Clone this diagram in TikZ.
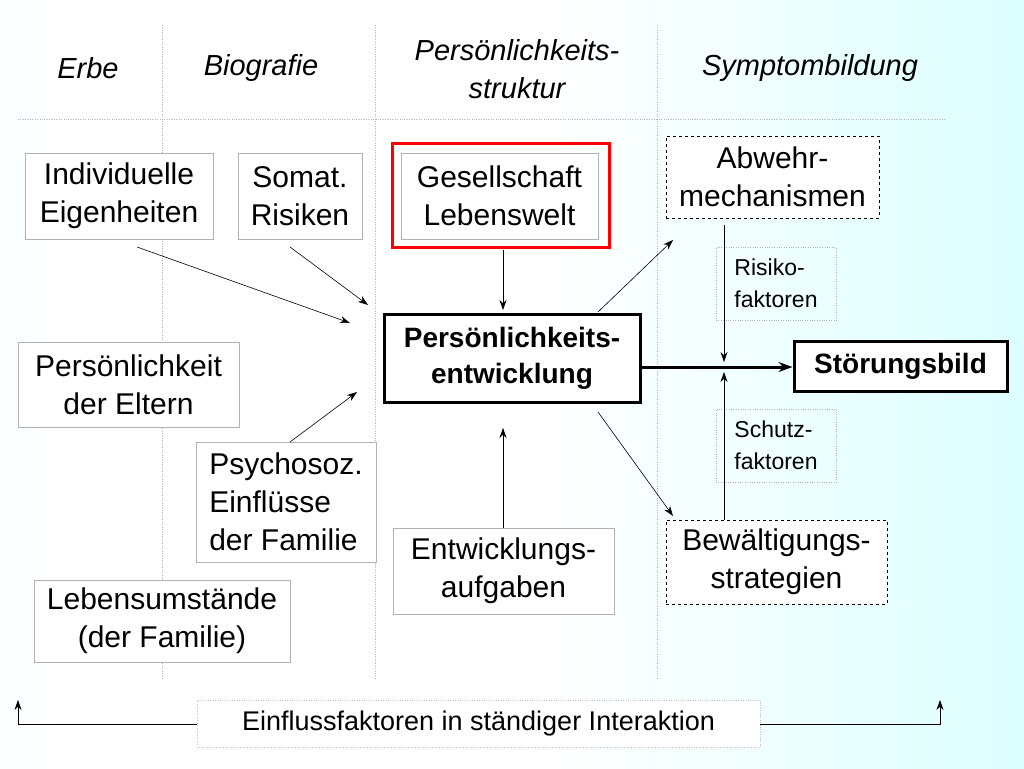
\documentclass[tikz,border=0pt]{standalone}
\usepackage{fontspec}
\setmainfont{Liberation Sans}
\usetikzlibrary{arrows.meta}
\pgfdeclarehorizontalshading{bg}{100bp}{color(0bp)=(cyan!18); color(28bp)=(white); color(52bp)=(white); color(100bp)=(cyan!28)}
\tikzset{
  box/.style={draw=gray!60,thin,fill=white,align=center,inner sep=0pt,font=\fontsize{30}{38}\selectfont},
  dbox/.style={box,draw=black,dashed},
  sbox/.style={box,draw=gray!60,dotted,align=left,fill=none,font=\fontsize{23}{32}\selectfont},
  bbox/.style={box,draw=black,line width=3pt,font=\bfseries\fontsize{28}{36}\selectfont},
  head/.style={align=center,font=\itshape\fontsize{29}{38}\selectfont},
  sep/.style={gray!60,dotted},
  arr/.style={-{Stealth[length=10pt,width=7pt]},semithick}
}
\begin{document}
\begin{tikzpicture}[x=1pt,y=-1pt]
  \shade[shading=bg] (0,0) rectangle (1024,768);
  \useasboundingbox (0,0) rectangle (1024,768);
  % column separators
  \draw[sep] (18,119) -- (945,119);
  \foreach \x in {162,375,657}
    \draw[sep] (\x,25) -- (\x,680);
  % headings
  \node[head] (erbe) at (88,68) {Erbe};
  \node[head] (bio) at (261,68) {Biografie};
  \node[head] (pers) at (517,69) {Persönlichkeits-\\struktur};
  \node[head] (sympt) at (810,68) {Symptombildung};
  % boxes
  \node[box,minimum width=188,minimum height=86] (indiv) at (119,196) {Individuelle\\Eigenheiten};
  \node[box,minimum width=124,minimum height=86] (somat) at (300,196) {Somat.\\Risiken};
  \node[draw=red,line width=3pt,minimum width=217,minimum height=104] (rahmen) at (500.5,195) {};
  \node[box,minimum width=197,minimum height=86] (gesell) at (499.5,196) {Gesellschaft\\Lebenswelt};
  \node[box,minimum width=221,minimum height=85] (eltern) at (128.5,384.5) {Persönlichkeit\\der Eltern};
  \node[box,align=left,minimum width=180,minimum height=120] (psycho) at (286,502) {Psychosoz.\\Einflüsse\\der Familie};
  \node[box,minimum width=256,minimum height=82] (lebens) at (162,621) {Lebensumstände\\(der Familie)};
  \node[box,minimum width=221,minimum height=86] (aufg) at (503.5,571) {Entwicklungs-\\aufgaben};
  \node[bbox,minimum width=256,minimum height=88] (entw) at (512,358) {Persönlichkeits-\\entwicklung};
  \node[bbox,minimum width=213,minimum height=50] (stoer) at (900.5,366) {Störungsbild};
  \node[dbox,minimum width=213,minimum height=82] (abwehr) at (772.5,177) {Abwehr-\\mechanismen};
  \node[dbox,minimum width=221,minimum height=84] (bewael) at (776.5,562) {Bewältigungs-\\strategien};
  \node[sbox,minimum width=120,minimum height=73] (risiko) at (776,283.5) {Risiko-\\faktoren};
  \node[sbox,minimum width=120,minimum height=73] (schutz) at (776,445.5) {Schutz-\\faktoren};
  \node[box,draw=gray!50,dotted,minimum width=563,minimum height=47,font=\fontsize{27}{30}\selectfont] (inter) at (478.5,724) {Einflussfaktoren in ständiger Interaktion};
  % connectors
  \coordinate (z1) at (350,323);
  \coordinate (z2) at (368,305);
  \coordinate (z3) at (357,392);
  \coordinate (m) at (724,367);
  \draw[arr] (137,247) -- (z1);
  \draw[arr] (290,247) -- (z2);
  \draw[arr] (290,442) -- (z3);
  \draw[arr] (503,250) -- (503,310);
  \draw[arr] (503,528) -- (503,428);
  \draw[arr] (598,312) -- (673,240);
  \draw[arr] (598,412) -- (673,516);
  \draw[-{Stealth[length=14pt,width=10pt]},line width=3pt] (entw.east |- m) -- (stoer.west |- m);
  \draw[arr] (724,225) -- (724,362);
  \draw[arr] (bewael.north -| m) -- (724,372);
  \draw[arr] (inter.west) -- (18,724) -- (18,700);
  \draw[arr] (inter.east) -- (940,724) -- (940,700);
\end{tikzpicture}
\end{document}
